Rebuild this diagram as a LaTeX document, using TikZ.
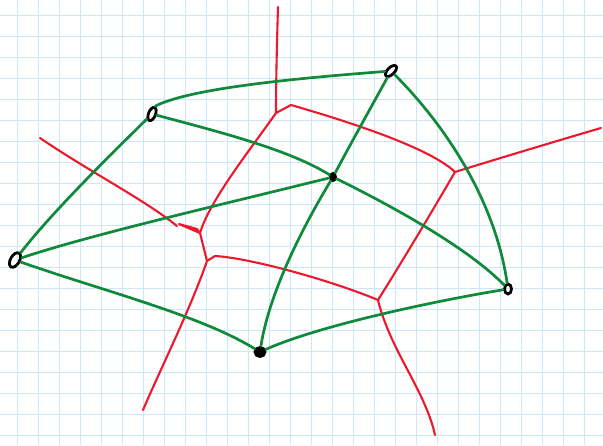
\documentclass[tikz,border=0pt]{standalone}
\usepackage{xcolor}
\usepackage{tikz}
\usetikzlibrary{shapes.geometric,calc}

\definecolor{gridblue}{RGB}{205,230,248}
\definecolor{delgreen}{RGB}{14,138,58}
\definecolor{vorred}{RGB}{234,26,44}

\begin{document}
\begin{tikzpicture}[x=1pt,y=-1pt,
		gridline/.style={gridblue, line width=1.5pt},
		site/.style={ellipse, draw=black, line width=2.8pt, inner sep=0pt, minimum width=7pt, minimum height=14pt},
		delaunay/.style={delgreen, line width=2.7pt, line cap=round},
		voronoi/.style={vorred, line width=2.1pt, line cap=round, line join=round}]
		\useasboundingbox (0,0) rectangle (603,445);
		\fill[white] (0,0) rectangle (603,445);

		% graph paper
		\foreach \gx in {0,...,27}
			\draw[gridline] ({17.3+21*\gx},0) -- ++(0,445);
		\foreach \gy in {0,...,20}
			\draw[gridline] (0,{15.7+21*\gy}) -- ++(603,0);

		% sites
		\node[site, rotate=-22] (s1) at (152,114) {};
		\node[site, rotate=-45] (s2) at (391,71) {};
		\node[site, minimum width=5pt, minimum height=7pt, fill=black] (s3) at (333,177) {};
		\node[site, rotate=-30, minimum width=9pt, minimum height=16pt] (s4) at (15,260) {};
		\node[site, minimum width=7pt, minimum height=10pt] (s5) at (508,289) {};
		\node[site, minimum width=10pt, minimum height=9pt, fill=black] (s6) at (260,352) {};

		% voronoi vertices and open ends
		\coordinate (v1) at (276,113);
		\coordinate (v2) at (455,172);
		\coordinate (v3) at (378,300);
		\coordinate (v4) at (200,233);
		\coordinate (v5) at (207,261);
		\coordinate (e1) at (278,7);
		\coordinate (e2) at (40,138);
		\coordinate (e3) at (601,128);
		\coordinate (e4) at (143,410);
		\coordinate (e5) at (435,435);

		\draw[voronoi] (e1) .. controls (277,40) and (276,80) .. (v1);
		\draw[voronoi] (v1) -- (291,105) .. controls (350,122) and (430,148) .. (v2);
		\draw[voronoi] (v2) .. controls (500,158) and (560,140) .. (e3);
		\draw[voronoi] (v2) .. controls (430,215) and (400,265) .. (v3);
		\draw[voronoi] (v3) .. controls (390,350) and (425,390) .. (e5);
		\draw[voronoi] (v5) -- (215,256) .. controls (250,258) and (330,280) .. (v3);
		\draw[voronoi] (v5) .. controls (190,310) and (160,370) .. (e4);
		\draw[voronoi] (v4) -- (v5);
		\draw[voronoi] (v1) .. controls (250,150) and (210,200) .. (v4);
		\draw[voronoi] (e2) .. controls (90,172) and (145,200) .. (177,226);
		\draw[voronoi] (179,224) -- (197,229) -- (v4) -- cycle;

		% delaunay edges
		\draw[delaunay] (s1.north) .. controls (190,88) and (300,78) .. (s2);
		\draw[delaunay] (s1) .. controls (220,132) and (290,150) .. (s3);
		\draw[delaunay] (s1) .. controls (100,165) and (50,215) .. (s4);
		\draw[delaunay] (s4) .. controls (90,235) and (220,205) .. (s3);
		\draw[delaunay] (s4) .. controls (100,290) and (200,315) .. (s6);
		\draw[delaunay] (s6) .. controls (268,300) and (295,240) .. (s3);
		\draw[delaunay] (s6) .. controls (320,325) and (440,300) .. (s5);
		\draw[delaunay] (s3) .. controls (400,210) and (470,250) .. (s5);
		\draw[delaunay] (s2) .. controls (445,125) and (495,200) .. (s5);
		\draw[delaunay] (s2) .. controls (375,100) and (350,145) .. (s3);
	\end{tikzpicture}
\end{document}
